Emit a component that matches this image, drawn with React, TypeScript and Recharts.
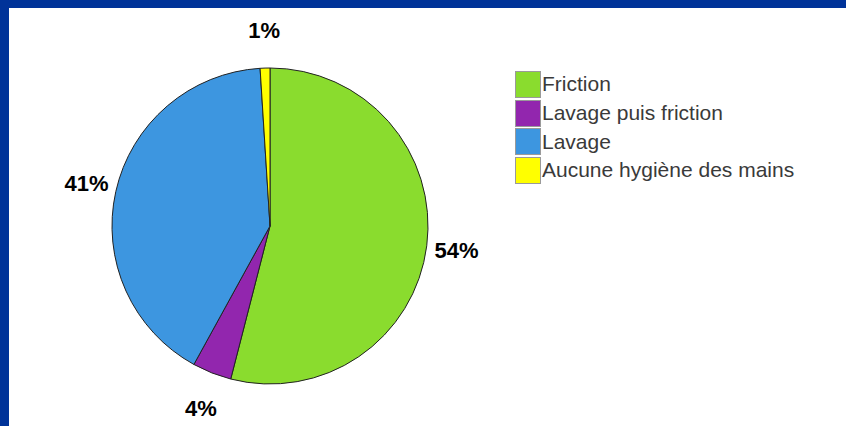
import { Pie, PieChart, Cell } from 'recharts';

const CATEGORIES = ['Friction', 'Lavage puis friction', 'Lavage', 'Aucune hygiène des mains'];
const SHARES = [54, 4, 41, 1];
const COLORS = ['#8adc2e', '#9226ae', '#3d96e0', '#ffff00'];

const DATA = CATEGORIES.map((name, i) => ({ name, value: SHARES[i] }));

const RAD = Math.PI / 180;
const FONT = "'Liberation Sans', Arial, sans-serif";

const renderLabel = (props: any) => {
  const { cx, cy, midAngle, outerRadius, value } = props;
  const x = cx + (outerRadius + 30) * Math.cos(-midAngle * RAD);
  const y = cy + (outerRadius + 38) * Math.sin(-midAngle * RAD);
  return (
    <text
      x={x}
      y={y}
      textAnchor="middle"
      dominantBaseline="central"
      fill="#000"
      fontSize={22}
      fontWeight="bold"
      fontFamily={FONT}
    >
      {`${value}%`}
    </text>
  );
};

const ChartLegend = () => (
  <div style={{ position: 'absolute', left: 515, top: 70, fontFamily: FONT }}>
    {CATEGORIES.map((name, i) => (
      <div key={name} style={{ display: 'flex', alignItems: 'center', height: 28.7 }}>
        <div
          style={{
            width: 24,
            height: 25,
            background: COLORS[i],
            border: '1px solid #9a9a9a',
            marginRight: 1,
          }}
        />
        <span style={{ fontSize: 21, color: '#3a3a3a', lineHeight: '26px', whiteSpace: 'nowrap' }}>{name}</span>
      </div>
    ))}
  </div>
);

const App = () => {
  return (
    <div
      style={{
        position: 'relative',
        width: 846,
        height: 426,
        background: '#fff',
        overflow: 'hidden',
      }}
    >
      <style>{`body{margin:0}`}</style>
      <div style={{ position: 'absolute', left: 0, top: 0, width: 846, height: 8, background: '#003399' }} />
      <div style={{ position: 'absolute', left: 0, top: 0, width: 9, height: 426, background: '#003399' }} />
      <div style={{ position: 'absolute', left: 0, top: 0 }}>
        <PieChart width={846} height={426} margin={{ top: 0, right: 0, bottom: 0, left: 0 }}>
          <Pie
            data={DATA}
            dataKey="value"
            nameKey="name"
            cx={270}
            cy={226}
            outerRadius={158}
            startAngle={90}
            endAngle={-270}
            stroke="#222"
            strokeWidth={1}
            label={renderLabel}
            labelLine={false}
            isAnimationActive={false}
          >
            {DATA.map((d, i) => (
              <Cell key={d.name} fill={COLORS[i]} />
            ))}
          </Pie>
        </PieChart>
      </div>
      <ChartLegend />
    </div>
  );
};

export default App;
